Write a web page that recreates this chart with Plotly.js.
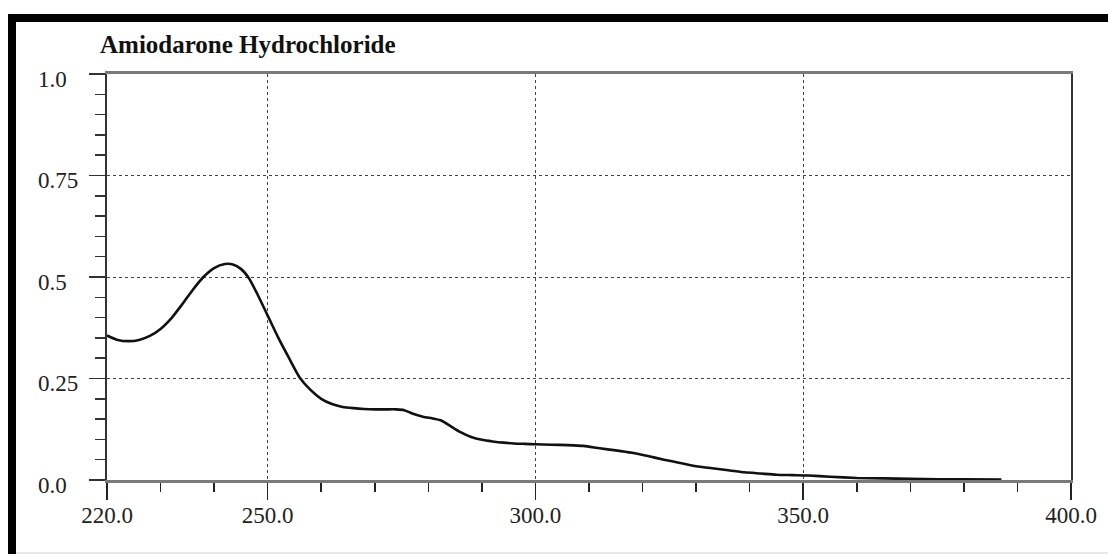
<!DOCTYPE html>
<html>
<head>
<meta charset="utf-8">
<script src="https://cdn.plot.ly/plotly-3.0.1.min.js"></script>
<style>
html,body{margin:0;padding:0;background:#fff;}
#chart{width:1108px;height:554px;}
</style>
</head>
<body>
<div id="chart"></div>
<script>
const chartTitle = "Amiodarone Hydrochloride";
const wavelength = [220,222,224,226,228,230,232,234,236,238,240,242,243.5,245,246.5,248,250,252,254,256,258,260,262,264,266,268,270,272,274,275.5,277,279,281,282.5,284,286,288,290,292,294,296,298,300,303,306,309,312,315,318,321,324,327,330,333,336,339,342,345,348,351,355,360,365,370,375,380,387];
const absorbance = [0.356,0.345,0.342,0.345,0.355,0.372,0.398,0.432,0.468,0.500,0.522,0.532,0.531,0.520,0.497,0.460,0.405,0.350,0.300,0.252,0.222,0.200,0.187,0.180,0.177,0.175,0.174,0.174,0.174,0.172,0.164,0.156,0.151,0.146,0.134,0.118,0.106,0.099,0.095,0.092,0.090,0.089,0.088,0.087,0.086,0.084,0.078,0.073,0.067,0.059,0.050,0.042,0.034,0.029,0.024,0.019,0.016,0.013,0.012,0.011,0.008,0.005,0.004,0.003,0.002,0.0015,0.001];
const xTickVals = [220,250,300,350,400];
const xTickText = ["220.0","250.0","300.0","350.0","400.0"];
const yTickVals = [0,0.25,0.5,0.75,1.0];
const yTickText = ["0.0","0.25","0.5","0.75","1.0"];

const W = 1108, H = 554, L = 107, R = 37, T = 74, B = 74;
const pw = W - L - R, ph = H - T - B;
const px = v => (v - L) / pw;
const py = v => (H - B - v) / ph;

const font = "'Liberation Serif', 'Times New Roman', serif";

const trace = {
  x: wavelength, y: absorbance, type: 'scatter', mode: 'lines',
  line: {color: '#111', width: 2.6, shape: 'spline', smoothing: 0.6},
  hoverinfo: 'skip'
};

const annotations = yTickVals.map((v, i) => ({
  x: px(36), xref: 'paper', xanchor: 'left',
  y: v, yref: 'y', yanchor: 'middle', yshift: -5,
  text: yTickText[i], showarrow: false,
  font: {family: font, size: 23, color: '#222'}
}));

const layout = {
  width: W, height: H,
  margin: {l: L, r: R, t: T, b: B, pad: 0},
  paper_bgcolor: '#ffffff', plot_bgcolor: '#ffffff',
  showlegend: false,
  title: {
    text: '<b>' + chartTitle + '</b>',
    xref: 'container', x: 100 / W, xanchor: 'left',
    yref: 'container', y: 1 - 44 / H, yanchor: 'middle',
    font: {family: font, size: 25, color: '#111'}
  },
  xaxis: {
    range: [220, 400], tickmode: 'array', tickvals: xTickVals, ticktext: xTickText,
    ticks: 'outside', ticklen: 17, tickwidth: 1.5, tickcolor: '#222',
    showline: true, linecolor: '#7a7a7a', linewidth: 3, mirror: true,
    showgrid: true, gridcolor: '#444', gridwidth: 1, griddash: '3px,3px',
    zeroline: false, ticklabelstandoff: -5,
    tickfont: {family: font, size: 23, color: '#222'},
    minor: {dtick: 10, tick0: 220, ticks: 'outside', ticklen: 9, tickwidth: 1.5, tickcolor: '#222', showgrid: false}
  },
  yaxis: {
    range: [0, 1.0], tickmode: 'array', tickvals: yTickVals,
    showticklabels: false,
    ticks: 'outside', ticklen: 16, tickwidth: 1.5, tickcolor: '#333',
    showline: true, linecolor: '#333', linewidth: 2, mirror: true,
    showgrid: true, gridcolor: '#444', gridwidth: 1, griddash: '3px,3px',
    zeroline: false,
    minor: {dtick: 0.05, tick0: 0, ticks: 'outside', ticklen: 10, tickwidth: 1.5, tickcolor: '#333', showgrid: false}
  },
  annotations: annotations,
  shapes: [
    {type: 'rect', xref: 'paper', yref: 'paper', x0: px(8), x1: px(1108), y0: py(22), y1: py(14), fillcolor: '#000', line: {width: 0}, layer: 'above'},
    {type: 'rect', xref: 'paper', yref: 'paper', x0: px(8), x1: px(16), y0: py(554), y1: py(14), fillcolor: '#000', line: {width: 0}, layer: 'above'},
    {type: 'line', xref: 'paper', yref: 'paper', x0: px(16), x1: px(1108), y0: py(553), y1: py(553), line: {color: '#d0d0d0', width: 1}, layer: 'above'}
  ]
};

Plotly.newPlot('chart', [trace], layout, {displayModeBar: false, staticPlot: true});
</script>
</body>
</html>
